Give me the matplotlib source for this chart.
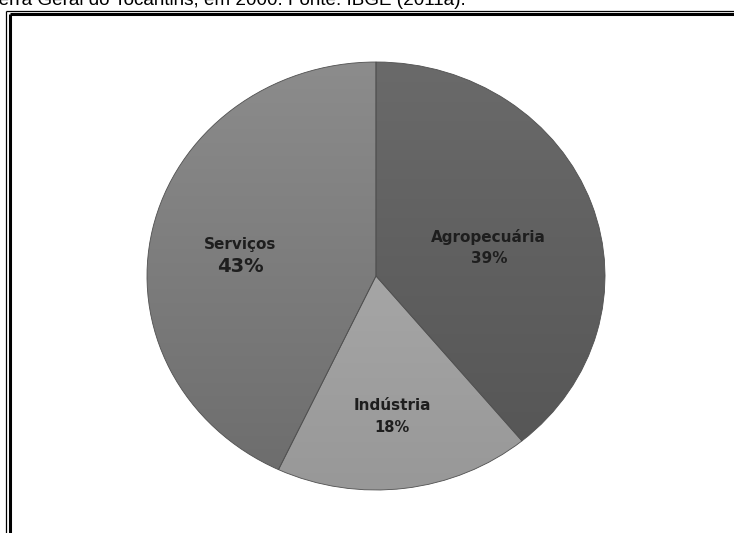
import numpy as np
import matplotlib
matplotlib.use("Agg")
import matplotlib.pyplot as plt
from matplotlib.lines import Line2D
from matplotlib.transforms import offset_copy

# ---- data ----
categories = ["Agropecuária", "Indústria", "Serviços"]
shares = [39, 18, 43]
pct_labels = ["39%", "18%", "43%"]

# ---- styling ----
top_colors = ["#6a6a6a", "#b3b3b3", "#8c8c8c"]
bottom_colors = ["#545454", "#989898", "#6c6c6c"]
label_radius = [0.51, 0.66, 0.60]
label_angle_offset = [-4.7, -1.1, 3.4]
pct_sizes = [11, 10.5, 14]

W, H = 734, 533
fig = plt.figure(figsize=(W / 100, H / 100), dpi=100)
fig.patch.set_facecolor("white")

# caption (cut off at top of the image, as in the reference)
fig.text(466 / W, 1 - 5 / H, "Serra Geral do Tocantins, em 2000. Fonte: IBGE (2011a).",
         ha="right", va="baseline", fontsize=13.6, family="Liberation Sans", color="black")

# double frame lines (left and top)
def fl(x0, y0, x1, y1, lw):
    fig.add_artist(Line2D([x0 / W, x1 / W], [1 - y0 / H, 1 - y1 / H],
                          transform=fig.transFigure, color="black", lw=lw,
                          solid_capstyle="butt"))

fl(5.5, 10.5, 5.5, H, 0.9)
fl(5.5, 10.5, W, 10.5, 0.9)
fl(9.5, 13.5, 9.5, H, 2.2)
fl(9.5, 13.5, W, 13.5, 2.2)

# pie axes (slightly elliptical as in reference)
left, right, top, bottom = 147, 605, 62, 490
ax = fig.add_axes([left / W, 1 - bottom / H, (right - left) / W, (bottom - top) / H])
wedges, _ = ax.pie(shares, startangle=90, counterclock=False, radius=1.0,
                   wedgeprops=dict(edgecolor="#505050", linewidth=0.6))
ax.set_aspect("auto")
ax.set_xlim(-1, 1)
ax.set_ylim(-1, 1)
ax.axis("off")

# vertical gradient inside each wedge
grad = np.linspace(1, 0, 256).reshape(-1, 1)
for w, ct, cb in zip(wedges, top_colors, bottom_colors):
    c1 = np.array(matplotlib.colors.to_rgb(ct))
    c2 = np.array(matplotlib.colors.to_rgb(cb))
    img = c2[None, None, :] + (c1 - c2)[None, None, :] * grad[:, :, None]
    img = np.repeat(img, 2, axis=1)
    im = ax.imshow(img, extent=[-1, 1, -1, 1], origin="upper", aspect="auto", zorder=1.5)
    im.set_clip_path(w)
    w.set_facecolor("none")
    w.set_zorder(2)

# labels
up = offset_copy(ax.transData, fig=fig, x=0, y=10.5, units="dots")
down = offset_copy(ax.transData, fig=fig, x=0, y=-11, units="dots")
for w, name, pct, r, da, ps in zip(wedges, categories, pct_labels, label_radius,
                                   label_angle_offset, pct_sizes):
    mid = np.deg2rad((w.theta1 + w.theta2) / 2 + da)
    x, y = r * np.cos(mid), r * np.sin(mid)
    ax.text(x, y, name, ha="center", va="center", fontsize=11, transform=up,
            fontweight="bold", color="#1e1e1e", family="DejaVu Sans", zorder=3)
    ax.text(x, y, pct, ha="center", va="center", fontsize=ps, transform=down,
            fontweight="bold", color="#1e1e1e", family="DejaVu Sans", zorder=3)

fig.savefig("out.png", dpi=100)
